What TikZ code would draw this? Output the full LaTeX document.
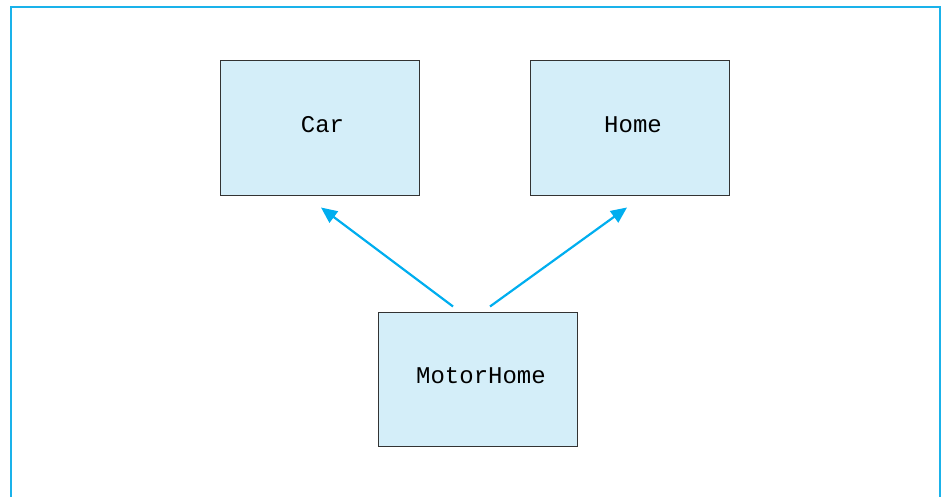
\documentclass[tikz,border=0pt]{standalone}
\usepackage{fontspec}
\setmonofont{Liberation Mono}
\usetikzlibrary{arrows.meta}
\definecolor{frameblue}{HTML}{1AB2EA}
\definecolor{arrowblue}{HTML}{00AEEF}
\definecolor{boxfill}{HTML}{D4EEF9}
\definecolor{boxline}{HTML}{333333}
\newcommand{\boxlabel}[1]{\raisebox{7.5pt}{\hspace*{6pt}#1}}
\tikzset{
  classbox/.style={draw=boxline, line width=1pt, fill=boxfill, minimum width=199pt, minimum height=134pt, inner sep=0pt, font=\ttfamily\fontsize{24}{28}\selectfont},
  inherit/.style={draw=arrowblue, line width=2.2pt, -{Triangle[length=16pt,width=14pt]}}
}
\begin{document}
\begin{tikzpicture}[x=1pt,y=-1pt]
\useasboundingbox (0,0) rectangle (944,497);
\draw[frameblue, line width=2.2pt] (11,497) -- (11,7) -- (940,7) -- (940,497);
\node[classbox] (car) at (319.5,128) {\boxlabel{Car}};
\node[classbox] (home) at (630,128) {\boxlabel{Home}};
\node[classbox] (mh) at (478,379) {\boxlabel{MotorHome}};
\draw[inherit] ([xshift=-25pt,yshift=5pt]mh.north) -- ([xshift=1.5pt,yshift=-12pt]car.south);
\draw[inherit] ([xshift=12pt,yshift=5pt]mh.north) -- ([xshift=-3pt,yshift=-12pt]home.south);
\end{tikzpicture}
\end{document}
